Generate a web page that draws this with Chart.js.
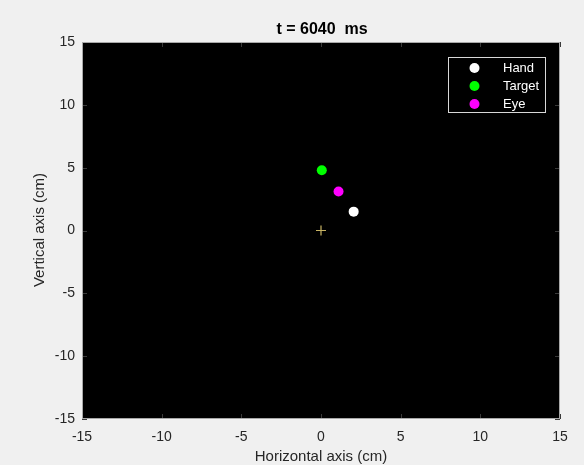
<!DOCTYPE html>
<html>
<head>
<meta charset="utf-8">
<script src="https://cdn.jsdelivr.net/npm/chart.js@4/dist/chart.umd.min.js"></script>
<style>
html,body{margin:0;padding:0;background:#f0f0f0;}
#wrap{width:584px;height:465px;position:relative;}
</style>
</head>
<body>
<div id="wrap"><canvas id="c" width="584" height="465"></canvas></div>
<script>
const titleText = "t = 6040  ms";
const xTitle = "Horizontal axis (cm)";
const yTitle = "Vertical axis (cm)";
const tickValues = [-15, -10, -5, 0, 5, 10, 15];
const seriesLabels = ["Hand", "Target", "Eye"];
const seriesColors = ["#ffffff", "#00ff00", "#ff00ff"];
const handPoint = [{x: 2.05, y: 1.5}];
const targetPoint = [{x: 0.05, y: 4.8}];
const eyePoint = [{x: 1.1, y: 3.1}];
const originPoint = [{x: 0, y: 0}];

const FONT = "'Liberation Sans', Arial, Helvetica, sans-serif";

const bgPlugin = {
  id: 'bg',
  beforeDraw(chart) {
    const {ctx, chartArea: a} = chart;
    ctx.save();
    ctx.fillStyle = '#f0f0f0';
    ctx.fillRect(0, 0, chart.width, chart.height);
    ctx.fillStyle = '#000000';
    ctx.fillRect(a.left, a.top, a.right - a.left, a.bottom - a.top);
    ctx.restore();
  },
  afterDatasetsDraw(chart) {
    const {ctx, chartArea: a, scales} = chart;
    ctx.save();
    // inward ticks
    ctx.strokeStyle = '#3a3a3a';
    ctx.lineWidth = 1;
    const L = 5;
    tickValues.forEach(v => {
      const px = Math.round(scales.x.getPixelForValue(v)) + 0.5;
      ctx.beginPath();
      ctx.moveTo(px, a.bottom); ctx.lineTo(px, a.bottom - L);
      ctx.moveTo(px, a.top); ctx.lineTo(px, a.top + L);
      ctx.stroke();
      const py = Math.round(scales.y.getPixelForValue(v)) + 0.5;
      ctx.beginPath();
      ctx.moveTo(a.left, py); ctx.lineTo(a.left + L, py);
      ctx.moveTo(a.right, py); ctx.lineTo(a.right - L, py);
      ctx.stroke();
    });
    // box
    ctx.strokeStyle = '#a8a8a8';
    ctx.strokeRect(a.left + 0.5, a.top + 0.5, a.right - a.left - 1, a.bottom - a.top - 1);
    // legend
    const lx = 448, ly = 57, lw = 98, lh = 56;
    ctx.fillStyle = '#000000';
    ctx.fillRect(lx, ly, lw, lh);
    ctx.strokeStyle = '#d8d8d8';
    ctx.strokeRect(lx + 0.5, ly + 0.5, lw - 1, lh - 1);
    const rows = [68, 86, 104];
    ctx.font = '13px ' + FONT;
    ctx.textBaseline = 'middle';
    ctx.textAlign = 'left';
    seriesLabels.forEach((lab, i) => {
      ctx.fillStyle = seriesColors[i];
      ctx.beginPath();
      ctx.arc(474.5, rows[i], 5, 0, Math.PI * 2);
      ctx.fill();
      ctx.fillStyle = '#ffffff';
      ctx.fillText(lab, 503, rows[i] + 0.5);
    });
    // titles
    ctx.fillStyle = '#000000';
    ctx.font = 'bold 16px ' + FONT;
    ctx.textAlign = 'center';
    ctx.fillText(titleText, 322, 30);
    ctx.fillStyle = '#262626';
    ctx.font = '15px ' + FONT;
    ctx.fillText(xTitle, 321, 457);
    ctx.translate(40, 230);
    ctx.rotate(-Math.PI / 2);
    ctx.fillText(yTitle, 0, 0);
    ctx.restore();
  }
};

new Chart(document.getElementById('c'), {
  type: 'scatter',
  data: {
    datasets: [
      {label: seriesLabels[0], data: handPoint, backgroundColor: seriesColors[0], borderColor: seriesColors[0], pointRadius: 5, borderWidth: 0},
      {label: seriesLabels[1], data: targetPoint, backgroundColor: seriesColors[1], borderColor: seriesColors[1], pointRadius: 5, borderWidth: 0},
      {label: seriesLabels[2], data: eyePoint, backgroundColor: seriesColors[2], borderColor: seriesColors[2], pointRadius: 5, borderWidth: 0},
      {label: 'origin', data: originPoint, pointStyle: 'cross', pointRadius: 5, borderColor: '#c8b464', borderWidth: 1.2, backgroundColor: 'transparent'}
    ]
  },
  options: {
    responsive: false,
    animation: false,
    devicePixelRatio: 1,
    layout: {padding: {top: 42, right: 24, left: 0, bottom: 0}},
    plugins: {legend: {display: false}, tooltip: {enabled: false}, title: {display: false}},
    scales: {
      x: {
        type: 'linear', min: -15, max: 15,
        afterBuildTicks: s => { s.ticks = tickValues.map(v => ({value: v})); },
        afterFit: s => { s.height = 46; },
        grid: {display: false, drawTicks: false}, border: {display: false},
        ticks: {color: '#262626', font: {size: 14, family: FONT}, padding: 10, maxRotation: 0, autoSkip: false}
      },
      y: {
        type: 'linear', min: -15, max: 15,
        afterBuildTicks: s => { s.ticks = tickValues.map(v => ({value: v})); },
        afterFit: s => { s.width = 82; },
        grid: {display: false, drawTicks: false}, border: {display: false},
        ticks: {color: '#262626', font: {size: 14, family: FONT}, padding: 7, autoSkip: false}
      }
    }
  },
  plugins: [bgPlugin]
});
</script>
</body>
</html>
